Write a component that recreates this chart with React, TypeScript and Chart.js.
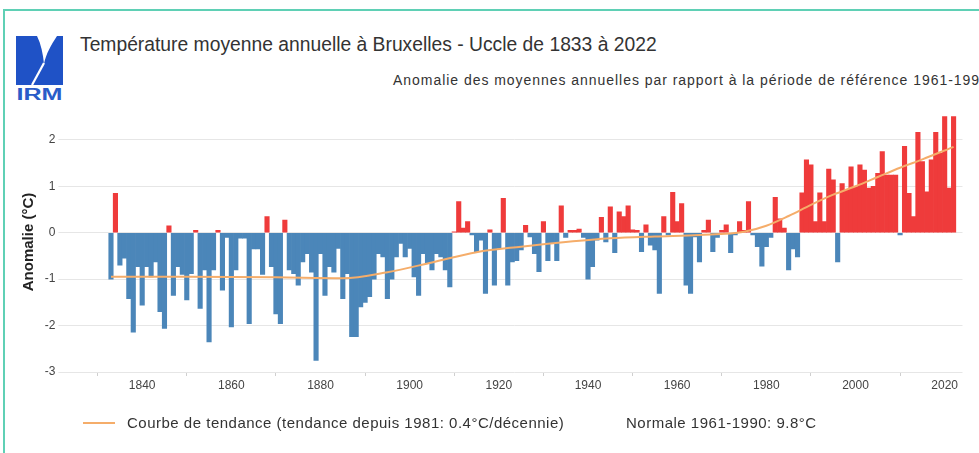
import React, { useEffect, useRef } from "react";
import { Chart, registerables } from "chart.js";

Chart.register(...registerables);

const FONT = '"Liberation Sans", Arial, Helvetica, sans-serif';

const FIRST_YEAR = 1833;

// Annual mean temperature anomaly (°C) vs 1961-1990, 1833..2022
const ANOMALIES: number[] = [
  -1.0, 0.85, -0.7, -0.55, -1.42, -2.14, -0.73,
  -1.56, -0.73, -0.95, -0.63, -1.7, -2.06, 0.15, -1.35, -0.73, -0.9,
  -1.45, -0.88, 0.05, -1.63, -0.8, -2.35, -0.8, 0.05, -1.24, -0.1,
  -2.03, -0.8, -0.12, -0.12, -1.96, -0.35, -0.35, -0.9, 0.35, -0.73,
  -1.75, -1.96, 0.27, -0.8, -0.88, -1.13, -0.63, -0.45, -0.85, -2.75,
  -0.45, -1.35, -0.73, -0.85, -0.34, -1.42, -0.88, -2.24, -2.24, -1.6,
  -1.5, -1.38, -1.0, -0.45, -0.52, -1.42, -1.0, -0.52, -0.23, -0.52,
  -0.34, -0.95, -1.35, -0.45, -0.66, -0.8, -0.45, -0.52, -0.8, -1.17,
  0.02, 0.67, 0.1, 0.24, -0.05, -0.41, -0.16, -1.31, 0.06, -1.13,
  -0.34, 0.74, -1.13, -0.63, -0.6, -0.37, 0.16, -0.09, -0.45, -0.84,
  0.24, -0.6, -0.23, -0.6, 0.58, -0.1, 0.05, 0.05, 0.08, -0.1,
  -1.0, -0.73, -0.16, 0.33, -0.2, 0.56, -0.43, 0.45, 0.35, 0.58,
  0.06, 0.05, -0.41, 0.17, -0.27, -0.37, -1.31, 0.35, -0.05, 0.87,
  0.24, 0.63, -1.13, -1.31, -0.09, -0.63, 0.05, 0.27, -0.41, -0.1,
  0.05, 0.17, -0.43, -0.05, 0.24, 0.05, 0.67, -0.05, -0.3, -0.72,
  -0.3, -0.1, 0.76, 0.3, 0.1, -0.8, -0.35, -0.52, 0.86, 1.57,
  1.46, 0.24, 0.86, 0.24, 1.37, 1.14, -0.63, 1.06, 0.92, 1.42,
  0.99, 1.46, 1.35, 0.96, 1.0, 1.28, 1.75, 1.24, 1.24, 1.24,
  -0.05, 1.86, 0.85, 0.35, 2.16, 1.53, 0.88, 1.57, 2.16, 1.71,
  2.5, 0.96, 2.5,
];

const YEARS: number[] = ANOMALIES.map((_, i) => FIRST_YEAR + i);

// Trend curve (read at a few years)
const TREND_YEARS: number[] = [1833, 1850, 1870, 1885, 1895, 1905, 1915, 1925, 1935, 1945, 1955, 1965, 1975, 1980, 1985, 1990, 1995, 2000, 2005, 2010, 2015, 2022];
const TREND_VALUES: number[] = [-0.95, -0.95, -0.96, -0.98, -0.85, -0.64, -0.42, -0.3, -0.2, -0.12, -0.08, -0.05, 0.02, 0.15, 0.36, 0.6, 0.82, 1.0, 1.2, 1.4, 1.58, 1.85];

const X_TICKS: number[] = [1840, 1860, 1880, 1900, 1920, 1940, 1960, 1980, 2000, 2020];
const Y_TICKS: number[] = [-3, -2, -1, 0, 1, 2];

const TITLE = "Température moyenne annuelle à Bruxelles - Uccle de 1833 à 2022";
const SUBTITLE = "Anomalie des moyennes annuelles par rapport à la période de référence 1961-1990";
const LEGEND_TREND = "Courbe de tendance (tendance depuis 1981: 0.4°C/décennie)";
const LEGEND_NORMAL = "Normale 1961-1990: 9.8°C";
const Y_TITLE = "Anomalie (°C)";

const RED = "#ef3b3b";
const BLUE = "#4b86b9";
const ORANGE = "#f5ad6a";

function Logo() {
  return (
    <svg width={50} height={66} viewBox="0 0 50 66" style={{ position: "absolute", left: 16, top: 36 }}>
      <rect x={0} y={0} width={47} height={49} fill="#1f52c6" />
      <path d="M21,0 L41,0 C35,9 30,18 28,28 C27,18 25,8 21,0 Z" fill="#ffffff" />
      <path d="M28,27 L16,49" stroke="#ffffff" strokeWidth={2.2} />
      <text x={23.5} y={64} textAnchor="middle" fontFamily={FONT} fontSize={16} fontWeight="bold" fill="#2a5cc8" textLength={46} lengthAdjust="spacingAndGlyphs">IRM</text>
    </svg>
  );
}

export default function App() {
  const canvasRef = useRef<HTMLCanvasElement | null>(null);

  useEffect(() => {
    const canvas = canvasRef.current;
    if (!canvas) return;
    const barData = YEARS.map((y, i) => ({ x: y, y: ANOMALIES[i] }));
    const trendData = TREND_YEARS.map((y, i) => ({ x: y, y: TREND_VALUES[i] }));

    const chart = new Chart(canvas, {
      type: "bar",
      data: {
        datasets: [
          {
            type: "line",
            data: trendData,
            borderColor: ORANGE,
            borderWidth: 2,
            pointRadius: 0,
            cubicInterpolationMode: "monotone",
            fill: false,
            order: 0,
          } as any,
          {
            type: "bar",
            data: barData,
            backgroundColor: (ctx: any) => {
              const v = ctx.raw ? ctx.raw.y : 0;
              return v >= 0 ? RED : BLUE;
            },
            borderWidth: 0,
            barPercentage: 1,
            categoryPercentage: 1,
            order: 1,
          } as any,
        ],
      },
      options: {
        animation: false,
        responsive: false,
        devicePixelRatio: 1,
        layout: { padding: { left: 0, right: 16.5, top: 112, bottom: 51 } },
        plugins: { legend: { display: false }, tooltip: { enabled: false } },
        scales: {
          x: {
            type: "linear",
            min: 1823,
            max: 2024,
            offset: false,
            border: { display: false },
            grid: { display: true, drawOnChartArea: false, drawTicks: true, tickLength: 4, color: "#cfcfcf" },
            ticks: {
              color: "#444",
              font: { family: FONT, size: 12 },
              padding: 2,
              maxRotation: 0,
              autoSkip: false,
              callback: (v: any) => String(v),
            },
            afterBuildTicks: (s: any) => {
              s.ticks = X_TICKS.map((v) => ({ value: v }));
            },
            afterFit: (s: any) => {
              s.height = 30;
            },
          },
          y: {
            type: "linear",
            min: -3,
            max: 2.6,
            border: { display: false },
            grid: { color: "#e6e6e6", tickLength: 8 },
            ticks: {
              color: "#444",
              font: { family: FONT, size: 12 },
              padding: 3,
              callback: (v: any) => String(v),
            },
            title: {
              display: true,
              text: Y_TITLE,
              color: "#222",
              font: { family: FONT, size: 15, weight: "bold" },
              padding: { top: 20, bottom: 0 },
            },
            afterBuildTicks: (s: any) => {
              s.ticks = Y_TICKS.map((v) => ({ value: v }));
            },
            afterFit: (s: any) => {
              s.width = 66.4;
            },
          },
        },
      } as any,
    });
    return () => chart.destroy();
  }, []);

  return (
    <div style={{ position: "absolute", left: 0, top: 0, width: 979, height: 453, overflow: "hidden", background: "#fff", fontFamily: FONT }}>
      <div style={{ position: "absolute", left: 3, top: 9, width: 1000, height: 500, borderLeft: "2px solid #5fd0b5", borderTop: "2px solid #5fd0b5" }} />
      <Logo />
      <div style={{ position: "absolute", left: 80, top: 34, fontSize: 19.3, lineHeight: "22px", color: "#333", whiteSpace: "nowrap" }}>{TITLE}</div>
      <div style={{ position: "absolute", left: 393, top: 72, fontSize: 14, lineHeight: "16px", letterSpacing: 0.96, color: "#333", whiteSpace: "nowrap" }}>{SUBTITLE}</div>
      <canvas ref={canvasRef} width={979} height={453} style={{ position: "absolute", left: 0, top: 0, width: 979, height: 453 }} />
      <div style={{ position: "absolute", left: 83, top: 422, width: 32, height: 2, background: ORANGE }} />
      <div style={{ position: "absolute", left: 127, top: 414, fontSize: 15, lineHeight: "17px", letterSpacing: 0.5, color: "#333", whiteSpace: "nowrap" }}>{LEGEND_TREND}</div>
      <div style={{ position: "absolute", left: 626, top: 414, fontSize: 15, lineHeight: "17px", letterSpacing: 0.5, color: "#333", whiteSpace: "nowrap" }}>{LEGEND_NORMAL}</div>
    </div>
  );
}
